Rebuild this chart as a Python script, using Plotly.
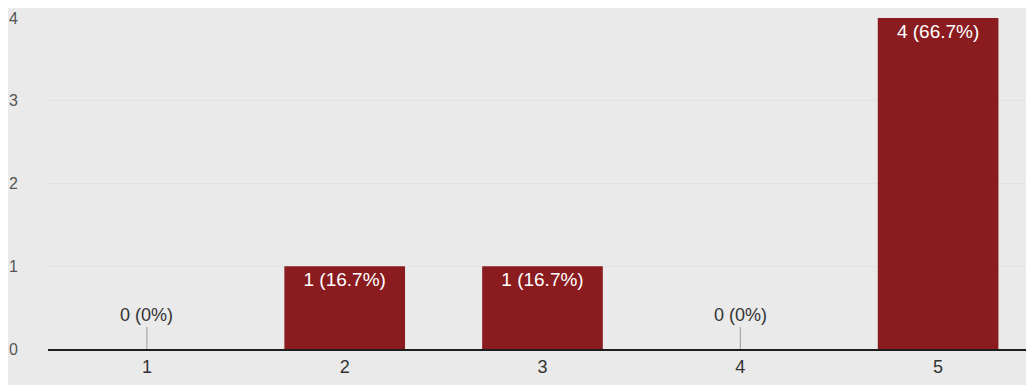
import plotly.graph_objects as go

# answer options and response counts
categories = ["1", "2", "3", "4", "5"]
counts = [0, 1, 1, 0, 4]
y_ticks = [0, 1, 2, 3, 4]

total = sum(counts)
labels = [f"{c} ({c / total * 100:.1f}%)".replace(".0%", "%") for c in counts]

BAR = "#8a1c1f"
BG = "#eaeaea"
FONT = "Liberation Sans, Arial"

fig = go.Figure()
fig.add_trace(
    go.Bar(
        x=categories,
        y=counts,
        marker=dict(color=BAR, line=dict(width=0)),
        width=0.61,
        text=[lab if c > 0 else "" for lab, c in zip(labels, counts)],
        textposition="inside",
        insidetextanchor="end",
        textangle=0,
        textfont=dict(color="white", size=19, family=FONT),
        hoverinfo="skip",
    )
)

# zero-value labels with a small stem, like google forms does
for i, (c, lab) in enumerate(zip(counts, labels)):
    if c == 0:
        fig.add_annotation(
            x=i,
            y=c,
            text=lab,
            showarrow=True,
            arrowhead=0,
            arrowwidth=1,
            arrowcolor="#999999",
            ax=0,
            ay=-22,
            yanchor="bottom",
            font=dict(color="#333333", size=18, family=FONT),
        )

# the page body adds 8px offset, so margins are shifted a bit
fig.update_layout(
    width=1034,
    height=385,
    margin=dict(l=40, r=5, t=10, b=44),
    paper_bgcolor=BG,
    plot_bgcolor=BG,
    showlegend=False,
    font=dict(family=FONT, size=16, color="#444444"),
)
fig.update_xaxes(
    type="category",
    showline=True,
    linecolor="#1e1e1e",
    linewidth=2,
    showgrid=False,
    ticks="",
    tickfont=dict(color="#333333", size=18),
)
# invisible long ticks push the y labels out to the far left
fig.update_yaxes(
    range=[0, 4],
    tickvals=y_ticks,
    showgrid=True,
    gridcolor="#e2e2e2",
    zeroline=False,
    automargin=False,
    ticks="outside",
    ticklen=26,
    tickcolor=BG,
    ticklabeloverflow="allow",
    tickfont=dict(color="#555555", size=16),
)

fig.write_html("out.html")
